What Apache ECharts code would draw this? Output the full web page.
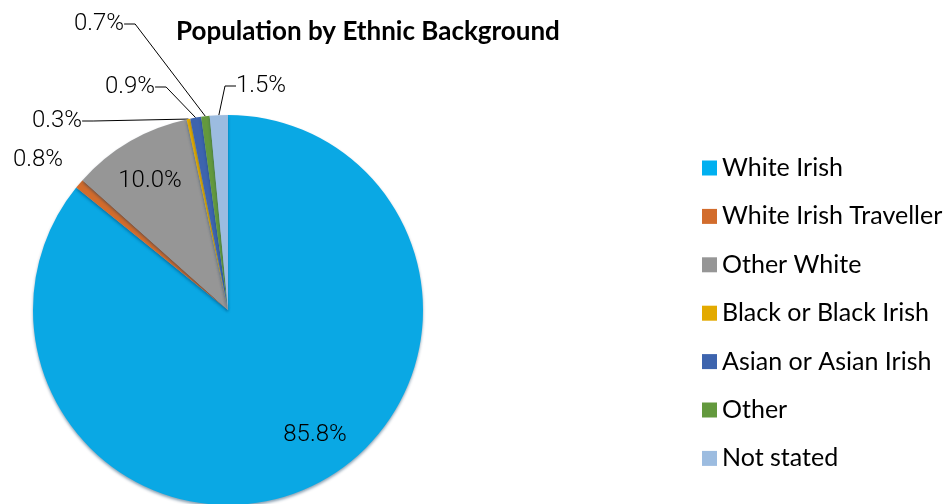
<!DOCTYPE html>
<html>
<head>
<meta charset="utf-8">
<title>Population by Ethnic Background</title>
<script src="https://cdn.jsdelivr.net/npm/echarts@6/dist/echarts.min.js"></script>
<style>
  html, body { margin: 0; padding: 0; background: #ffffff; }
  #chart { width: 948px; height: 504px; }
</style>
</head>
<body>
<div id="chart"></div>
<script>
// Ethnic background shares (%)
const categories = ['White Irish', 'White Irish Traveller', 'Other White', 'Black or Black Irish', 'Asian or Asian Irish', 'Other', 'Not stated'];
const shares = [85.8, 0.8, 10.0, 0.3, 0.9, 0.7, 1.5];
const colors = ['#0aa8e4', '#d26c2c', '#969696', '#e3aa00', '#3d64ae', '#63993d', '#9cbce0'];
const legendColors = ['#00b0f0', '#d26c2c', '#969696', '#e3aa00', '#3d64ae', '#63993d', '#9cbce0'];

// Pie geometry
const pieCenter = [228, 310];
const pieRadius = 195;

// Label anchor for each slice: [x, middle y, text alignment]
const labelPos = [
  [315, 435, 'center'],
  [13, 160, 'left'],
  [150, 181, 'center'],
  [32, 121, 'left'],
  [105, 87, 'left'],
  [74, 24, 'left'],
  [236, 86, 'left']
];
const showLeader = [false, false, false, true, true, true, true];

const chart = echarts.init(document.getElementById('chart'), null, { renderer: 'canvas' });

const pieData = categories.map((name, i) => ({
  name: name,
  value: shares[i],
  itemStyle: { color: colors[i] },
  label: { position: labelPos[i][2] === 'center' ? 'inside' : 'outside' },
  labelLine: { show: showLeader[i] }
}));

chart.setOption({
  animation: false,
  backgroundColor: '#ffffff',
  title: {
    text: 'Population by Ethnic Background',
    left: 171,
    top: 14,
    textStyle: {
      fontFamily: 'Lato',
      fontWeight: 'bold',
      fontSize: 26,
      color: '#000000'
    }
  },
  legend: {
    orient: 'vertical',
    left: 702,
    top: 155,
    padding: 0,
    icon: 'rect',
    itemWidth: 15,
    itemHeight: 15,
    itemGap: 22.4,
    data: categories.map((name, i) => ({ name: name, itemStyle: { color: legendColors[i] } })),
    textStyle: {
      fontFamily: 'Lato',
      fontSize: 25,
      lineHeight: 26,
      color: '#000000',
      padding: [0, 0, 0, 0]
    },
    selectedMode: false
  },
  series: [{
    type: 'pie',
    center: pieCenter,
    radius: pieRadius,
    startAngle: 90,
    clockwise: true,
    avoidLabelOverlap: false,
    data: pieData,
    itemStyle: {
      borderWidth: 0,
      shadowColor: 'rgba(0, 50, 90, 0.45)',
      shadowBlur: 3,
      shadowOffsetY: 2
    },
    label: {
      show: true,
      formatter: p => p.value.toFixed(1) + '%',
      fontFamily: 'Roboto',
      fontWeight: 300,
      fontSize: 24,
      color: '#000000'
    },
    labelLine: {
      length: 10,
      length2: 11,
      smooth: false,
      lineStyle: { color: '#000000', width: 1 }
    },
    labelLayout: function (params) {
      const pos = labelPos[params.dataIndex];
      return {
        x: pos[0],
        y: pos[1],
        align: pos[2],
        verticalAlign: 'middle'
      };
    }
  }]
});
</script>
</body>
</html>
